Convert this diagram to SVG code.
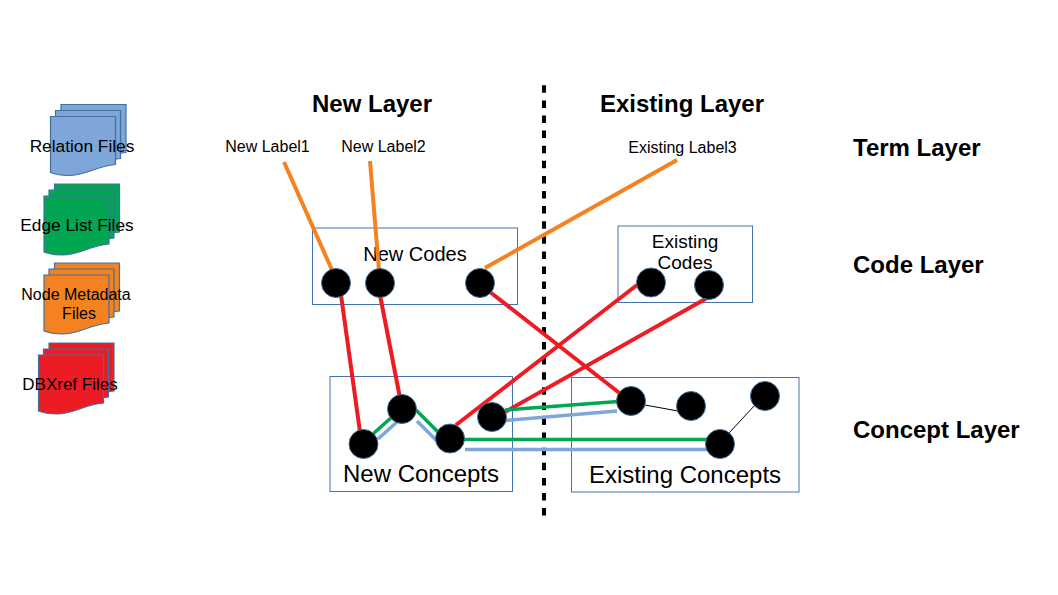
<svg xmlns="http://www.w3.org/2000/svg" width="1058" height="595" viewBox="0 0 1058 595">
<style>
text{font-family:"Liberation Sans",Arial,sans-serif;fill:#000;text-anchor:middle}
.h{font-size:24px;font-weight:bold}
.l{font-size:24px;font-weight:bold;text-anchor:start}
.t{font-size:16px}
.m{font-size:19px}
.w{font-size:20px}
.c{font-size:24px}
.f{font-size:17.300px}
.d{font-size:17px}
.s{font-size:16px}
.box{fill:none;stroke:#4472ad;stroke-width:1}
.n{fill:#000;stroke:#41719c;stroke-width:1}
.doc{stroke:#41719c;stroke-width:1.2}
.o{stroke:#f58220;stroke-width:4;fill:none}
.r{stroke:#ed1c24;stroke-width:4;fill:none}
.g{stroke:#00a651;stroke-width:3.600;fill:none}
.b{stroke:#7ea6d9;stroke-width:3.600;fill:none}
.k{stroke:#000;stroke-width:1;fill:none}
</style>
<defs>
<path id="page" d="M0,0H65V48C44,50 36,59 18,59C11,59 5,58 0,56Z"/>
<g id="stack">
<use href="#page" x="10.500" y="-12"/>
<use href="#page" x="5" y="-6"/>
<use href="#page"/>
</g>
</defs>
<g id="file-relation"><use href="#stack" class="doc" x="50.500" y="116.500" fill="#7ea6d9"/><text class="f" x="82" y="152">Relation Files</text></g>
<g id="file-edge"><use href="#stack" class="doc" x="44" y="196" fill="#00a651"/><text class="f" x="77" y="231">Edge List Files</text></g>
<g id="file-node"><use href="#stack" class="doc" x="44" y="275" fill="#f58220"/><text class="s" x="76" y="300">Node Metadata</text><text class="s" x="79" y="319">Files</text></g>
<g id="file-dbxref"><use href="#stack" class="doc" x="38.500" y="355" fill="#ed1c24"/><text class="d" x="70" y="390">DBXref Files</text></g>

<g id="headings">
<text class="h" x="372" y="112">New Layer</text>
<text class="h" x="682" y="112">Existing Layer</text>
<text class="l" x="853" y="156">Term Layer</text>
<text class="l" x="853" y="273">Code Layer</text>
<text class="l" x="853" y="438">Concept Layer</text>
</g>
<g id="term-labels">
<text class="t" x="267.500" y="152">New Label1</text>
<text class="t" x="383.500" y="152">New Label2</text>
<text class="t" x="682.500" y="153">Existing Label3</text>
</g>
<g id="new-codes"><rect class="box" x="312.500" y="228" width="205" height="76.500"/><text class="w" x="415" y="261">New Codes</text></g>
<g id="existing-codes"><rect class="box" x="618" y="226" width="134.500" height="76.500"/><text class="m" x="685" y="248">Existing</text><text class="m" x="685" y="269">Codes</text></g>
<g id="new-concepts"><rect class="box" x="330" y="376.500" width="182.500" height="115"/><text class="c" x="421" y="482">New Concepts</text></g>
<g id="existing-concepts"><rect class="box" x="571.500" y="377.500" width="227.500" height="114.500"/><text class="c" x="685" y="483">Existing Concepts</text></g>

<g id="connectors">
<line x1="544" y1="85.300" x2="544" y2="518" stroke="#000" stroke-width="4" stroke-dasharray="7.500 7.600"/>
<line class="o" x1="284" y1="162" x2="332" y2="270"/>
<line class="o" x1="370" y1="161" x2="379" y2="270"/>
<line class="o" x1="677" y1="160" x2="485" y2="268"/>
<line class="r" x1="341" y1="295" x2="360" y2="432"/>
<line class="r" x1="380" y1="295" x2="400" y2="398"/>
<line class="r" x1="637" y1="285" x2="456" y2="425"/>
<line class="r" x1="707" y1="298" x2="505" y2="412"/>
<line class="r" x1="490" y1="292" x2="622" y2="395"/>
<line class="g" x1="373" y1="434" x2="393" y2="416"/>
<line class="g" x1="416" y1="410" x2="438" y2="432"/>
<line class="g" x1="464" y1="439.500" x2="708" y2="439.500"/>
<line class="g" x1="505" y1="410" x2="618" y2="401.500"/>
<line class="b" x1="378" y1="439" x2="398" y2="421"/>
<line class="b" x1="417" y1="421" x2="437" y2="441"/>
<line class="b" x1="465" y1="449.500" x2="707" y2="449.500"/>
<line class="b" x1="505" y1="420.500" x2="617" y2="411"/>
<line class="k" x1="645" y1="405" x2="678" y2="411"/>
<line class="k" x1="729" y1="433" x2="755" y2="405"/>
</g>

<g id="code-nodes">
<circle class="n" cx="336" cy="283" r="14.500"/>
<circle class="n" cx="380" cy="283" r="14.500"/>
<circle class="n" cx="480" cy="283" r="14.500"/>
<circle class="n" cx="651" cy="282.500" r="14.500"/>
<circle class="n" cx="709" cy="285" r="14.500"/>
</g>
<g id="concept-nodes">
<circle class="n" cx="363.500" cy="444" r="14.500"/>
<circle class="n" cx="402" cy="409" r="14.500"/>
<circle class="n" cx="450" cy="438.500" r="14.500"/>
<circle class="n" cx="492" cy="417" r="14.500"/>
<circle class="n" cx="631" cy="401" r="14.500"/>
<circle class="n" cx="691" cy="406" r="14.500"/>
<circle class="n" cx="765" cy="396" r="14.500"/>
<circle class="n" cx="720" cy="444" r="14.500"/>
</g>
</svg>
